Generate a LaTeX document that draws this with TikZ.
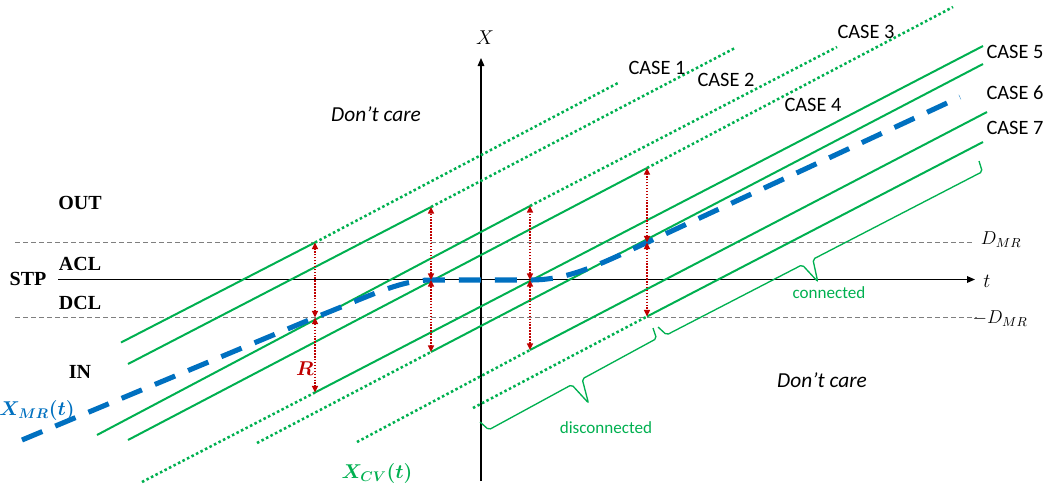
\RequirePackage{fix-cm}
\documentclass[tikz,border=0pt]{standalone}
\usepackage{fontspec}
\usepackage{bm}
\newfontfamily\calib{Carlito}
\newfontfamily\libserif{Liberation Serif}
\usetikzlibrary{arrows.meta}
\definecolor{cvgreen}{HTML}{00B050}
\definecolor{mrblue}{HTML}{0070C0}
\definecolor{rred}{HTML}{C00000}
\definecolor{gline}{HTML}{7F7F7F}
\begin{document}
\begin{tikzpicture}[x=0.75pt,y=-0.75pt,
  cvsolid/.style={draw=cvgreen, line width=1.5pt},
  cvdot/.style={draw=cvgreen, line width=1.9pt, dash pattern=on 1.9pt off 1.9pt},
  mrline/.style={draw=mrblue, line width=3.8pt, dash pattern=on 16.5pt off 10.5pt},
  rarrow/.style={draw=rred, line width=1.1pt, dash pattern=on 1.1pt off 1.1pt,
     {Triangle[length=5pt,width=4.5pt]}-{Triangle[length=5pt,width=4.5pt]}},
  lim/.style={draw=gline, line width=0.75pt, dash pattern=on 3.5pt off 2.5pt},
  axis/.style={draw=black, line width=0.8pt, -{Triangle[length=6pt,width=5pt]}},
  casel/.style={font=\calib\fontsize{15.3}{18}\selectfont, inner sep=0pt},
  zonel/.style={font=\libserif\bfseries\fontsize{15}{17}\selectfont, inner sep=0pt},
  care/.style={font=\calib\itshape\fontsize{16}{19}\selectfont, inner sep=0pt},
  bracepath/.style={draw=cvgreen, line width=1pt, rounded corners=1.5pt},
  bracel/.style={text=cvgreen, font=\calib\fontsize{12.8}{15}\selectfont, inner sep=0pt},
  mathl/.style={inner sep=0pt, font=\fontsize{15}{18}\selectfont}
]
\useasboundingbox (0,0) rectangle (1050,489);

% limit lines
\coordinate (dmrL) at (15,242.5);  \coordinate (dmrR) at (972,242.5);
\coordinate (ndmrL) at (15,317.5); \coordinate (ndmrR) at (977,317.5);
\draw[lim] (dmrL) -- (dmrR);
\draw[lim] (ndmrL) -- (ndmrR);

% axes
\coordinate (xb) at (481,481); \coordinate (xt) at (481,58);
\coordinate (tl) at (58,279.5); \coordinate (tr) at (975,279.5);
\draw[axis] (xb) -- (xt);
\draw[axis] (tl) -- (tr);
\node[mathl] (xlab) at (485,38) {$X$};
\node[mathl] (tlab) at (987,281) {$t$};

% arrow points
\coordinate (m1) at (315,317.5); \coordinate (a1t) at (315,242.5); \coordinate (a1b) at (315,392.5);
\coordinate (m2) at (431,280);   \coordinate (a2t) at (431,207);   \coordinate (a2b) at (431,352);
\coordinate (m3) at (530,280);   \coordinate (a3t) at (530,206);   \coordinate (a3b) at (530,350);
\coordinate (m4) at (647,242.5); \coordinate (a4t) at (647,168);   \coordinate (a4b) at (647,316.5);

% upper lines (solid then dotted)
\coordinate (u1s) at (121,342.5); \coordinate (u1e) at (618,83);
\coordinate (u2s) at (128,364);   \coordinate (u2e) at (735,48);
\coordinate (u3s) at (97,435);    \coordinate (u3e) at (837,47);
\coordinate (u4s) at (128,440);   \coordinate (u4e) at (953,7);
\draw[cvsolid] (u1s) -- (a1t); \draw[cvdot] (a1t) -- (u1e);
\draw[cvsolid] (u2s) -- (a2t); \draw[cvdot] (a2t) -- (u2e);
\draw[cvsolid] (u3s) -- (a3t); \draw[cvdot] (a3t) -- (u3e);
\draw[cvsolid] (u4s) -- (a4t); \draw[cvdot] (a4t) -- (u4e);

% lower lines (dotted then solid)
\coordinate (d1s) at (142,482);   \coordinate (d1e) at (983,46);
\coordinate (d2s) at (257,443);   \coordinate (d2e) at (983,64);
\coordinate (d3s) at (357,442);   \coordinate (d3e) at (987,112);
\coordinate (d4s) at (473,408);   \coordinate (d4e) at (983,142);
\draw[cvdot] (d1s) -- (a1b); \draw[cvsolid] (a1b) -- (d1e);
\draw[cvdot] (d2s) -- (a2b); \draw[cvsolid] (a2b) -- (d2e);
\draw[cvdot] (d3s) -- (a3b); \draw[cvsolid] (a3b) -- (d3e);
\draw[cvdot] (d4s) -- (a4b); \draw[cvsolid] (a4b) -- (d4e);

% master trajectory
\coordinate (m0) at (22,440); \coordinate (m5) at (960,97);
\draw[mrline] (m0) -- (m1) .. controls (370,296) and (400,280) .. (m2) -- (m3)
   .. controls (570,280) and (600,264) .. (m4) -- (m5);

% range arrows
\draw[rarrow] (m1) -- (a1t); \draw[rarrow] (m1) -- (a1b);
\draw[rarrow] (m2) -- (a2t); \draw[rarrow] (m2) -- (a2b);
\draw[rarrow] (m3) -- (a3t); \draw[rarrow] (m3) -- (a3b);
\draw[rarrow] (m4) -- (a4t); \draw[rarrow] (m4) -- (a4b);

% braces
\coordinate (cbA) at (979,161); \coordinate (cbB) at (658,327);
\coordinate (dbA) at (653,328); \coordinate (dbB) at (480,422);
\draw[bracepath] (cbA) -- (982.3,171.7) -- (812.9,259.3) -- (817.7,281.6)
   -- (802.2,264.8) -- (666.6,334.9) -- (cbB);
\draw[bracepath] (dbA) -- (656.5,338.6) -- (582.2,379.0) -- (588.4,402.9)
   -- (571.7,384.7) -- (488.8,429.8) -- (dbB);
\node[bracel] (conn) at (829,293) {connected};
\node[bracel] (disc) at (606,428) {disconnected};

% labels
\node[casel] (c1) at (657,68) {CASE 1};
\node[casel] (c2) at (726,80) {CASE 2};
\node[casel] (c3) at (866,32) {CASE 3};
\node[casel] (c4) at (813,105) {CASE 4};
\node[casel] (c5) at (1015,52) {CASE 5};
\node[casel] (c6) at (1015,93) {CASE 6};
\node[casel] (c7) at (1015,128) {CASE 7};

\node[care] (dc1) at (376,114) {Don’t care};
\node[care] (dc2) at (822,380) {Don’t care};

\node[zonel] (out) at (80,203) {OUT};
\node[zonel] (acl) at (80,264) {ACL};
\node[zonel] (stp) at (28,279) {STP};
\node[zonel] (dcl) at (80,303) {DCL};
\node[zonel] (in)  at (80,372) {IN};

\node[mathl, font=\fontsize{14}{16}\selectfont] (dmr) at (1001,240) {$D_{MR}$};
\node[mathl, font=\fontsize{14}{16}\selectfont] (ndmr) at (1000,319) {$-D_{MR}$};
\node[mathl, text=mrblue] (xmr) at (37,410) {$\bm{X_{MR}(t)}$};
\node[mathl, text=cvgreen] (xcv) at (377,473) {$\bm{X_{CV}(t)}$};
\node[mathl, text=rred] (rlab) at (305,369) {$\bm{R}$};
\end{tikzpicture}
\end{document}
